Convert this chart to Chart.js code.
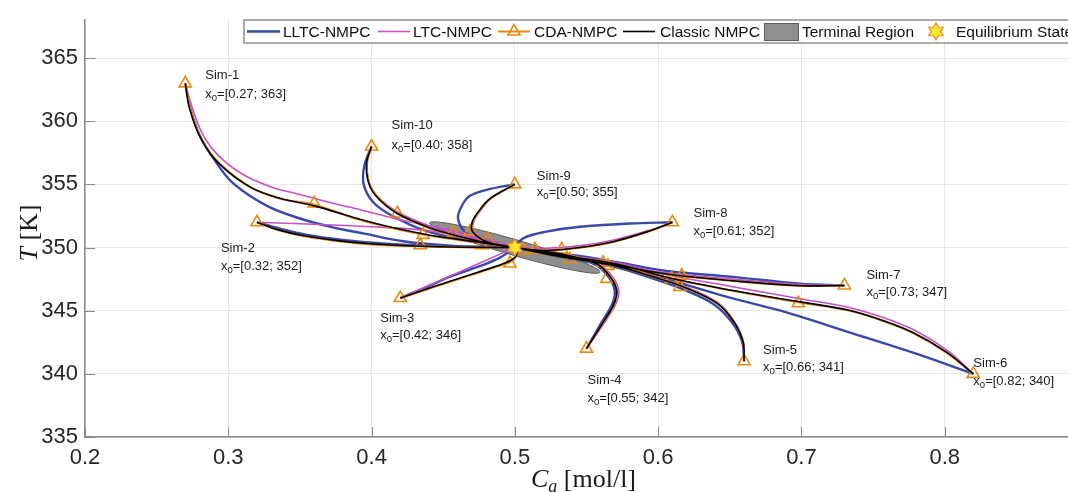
<!DOCTYPE html>
<html><head><meta charset="utf-8">
<script src="https://cdn.jsdelivr.net/npm/chart.js@4.4.1/dist/chart.umd.min.js"></script>
<style>
html,body{margin:0;padding:0;overflow:hidden;background:#fff;width:1068px;height:492px}
#wrap{position:absolute;left:0;top:0;width:1100px;height:492px}
</style>
</head><body><div id="wrap"><canvas id="c"></canvas></div>
<script>
// ---------------- DATA ----------------
const simNames = ['Sim-1','Sim-2','Sim-3','Sim-4','Sim-5','Sim-6','Sim-7','Sim-8','Sim-9','Sim-10'];
const simStarts = [[0.27,363],[0.32,352],[0.42,346],[0.55,342],[0.66,341],[0.82,340],[0.73,347],[0.61,352],[0.50,355],[0.40,358]];
const equilibrium = [0.5, 350];
const terminalCenter = [0.5, 350];
const terminalTip = [0.5595, 348.05];
const terminalHalfHeightK = 0.65;

const xTickValues = [0.2,0.3,0.4,0.5,0.6,0.7,0.8];
const xTickLabels = ['0.2','0.3','0.4','0.5','0.6','0.7','0.8'];
const yTickValues = [335,340,345,350,355,360,365];
const yTickLabels = ['335','340','345','350','355','360','365'];

// trajectories [Ca, T], one list per simulation (Sim-1 ... Sim-10)
const lltcPaths = [
 [[.27,363],[.273,361.2],[.28,358.9],[.29,357.0],[.3033,355.1],[.327,353.3],[.35,352.3],[.373,351.6],[.395,351.1],[.422,350.5],[.455,350.15],[.5,350]],
 [[.32,352],[.336,351.5],[.355,351.0],[.38,350.6],[.41,350.3],[.45,350.1],[.5,350]],
 [[.42,346],[.44,346.95],[.4547,347.7],[.475,348.5],[.4896,349.2],[.5,350]],
 [[.55,342],[.5596,343.9],[.5678,345.5],[.5697,346.6],[.5652,347.7],[.556,348.65],[.533,349.4],[.51,349.8],[.5,350]],
 [[.66,341],[.6587,342.5],[.652,344.0],[.639,345.5],[.615,346.8],[.592,347.7],[.57,348.45],[.53,349.3],[.5,350]],
 [[.82,340],[.78,341.6],[.734,343.27],[.69,344.85],[.652,345.97],[.61,347.38],[.5594,349.07],[.525,349.6],[.5,350]],
 [[.73,347],[.699,347.14],[.652,347.68],[.606,348.14],[.571,348.84],[.531,349.46],[.5,350]],
 [[.61,352],[.58,351.9],[.5454,351.65],[.522,351.26],[.506,350.75],[.5,350]],
 [[.5,355],[.4826,354.64],[.4687,354.1],[.4631,353.33],[.4603,352.32],[.4652,351.24],[.4777,350.39],[.5,350]],
 [[.40,358],[.395,356.5],[.3945,355.0],[.401,353.6],[.413,352.6],[.436,351.4],[.464,350.6],[.5,350]]
];
const ltcPaths = [
 [[.27,363],[.2745,361.2],[.282,359.0],[.293,357.3],[.31,355.8],[.33,354.8],[.35,354.2],[.373,353.5],[.392,353.0],[.42,352.2],[.45,351.5],[.476,350.8],[.5,350]],
 [[.32,352],[.36,351.85],[.40,351.65],[.434,351.4],[.46,351.0],[.482,350.55],[.5,350]],
 [[.42,346],[.45,347.5],[.48,349.0],[.5,350]],
 [[.55,342],[.5616,343.9],[.5703,345.5],[.5725,346.6],[.568,347.7],[.5585,348.7],[.534,349.5],[.511,349.87],[.5,350]],
 [[.66,341],[.6596,342.5],[.6535,344.1],[.6415,345.65],[.618,346.95],[.595,347.8],[.572,348.55],[.531,349.35],[.5,350]],
 [[.82,340],[.8025,341.8],[.779,343.45],[.756,344.5],[.7318,345.3],[.699,345.95],[.652,346.9],[.606,347.85],[.571,348.8],[.531,349.45],[.5,350]],
 [[.73,347],[.699,347.08],[.652,347.5],[.606,348.0],[.571,348.7],[.531,349.4],[.5,350]],
 [[.61,352],[.592,351.3],[.569,350.6],[.546,350.15],[.522,349.95],[.5,350]],
 [[.5,355],[.4835,353.9],[.4752,352.8],[.471,351.95],[.4717,351.25],[.4812,350.48],[.5,350]],
 [[.40,358],[.397,356.7],[.3985,355.1],[.405,353.95],[.419,352.75],[.443,351.6],[.466,350.85],[.489,350.25],[.5,350]]
];
const cdaPaths = [
 [[.27,363],[.2735,361],[.2815,358.55],[.294,356.65],[.316,354.75],[.337,353.85],[.36,353.4],[.39,352.25],[.414,351.55],[.44,350.95],[.47,350.45],[.5,350]],
 [[.32,352],[.336,351.35],[.353,350.9],[.377,350.5],[.4,350.25],[.434,350.1],[.47,350.0],[.5,350]],
 [[.42,346],[.443,346.85],[.466,347.7],[.485,348.4],[.4966,348.85],[.5015,349.45],[.5,350]],
 [[.55,342],[.561,343.9],[.5695,345.5],[.5715,346.6],[.5668,347.7],[.5576,348.7],[.5337,349.48],[.5105,349.86],[.5,350]],
 [[.66,341],[.6594,342.5],[.653,344.1],[.6412,345.6],[.6175,346.9],[.5945,347.75],[.5712,348.52],[.5312,349.3],[.5,350]],
 [[.82,340],[.8013,341.68],[.7776,343.25],[.7546,344.28],[.7316,345.05],[.699,345.65],[.652,346.58],[.606,347.63],[.571,348.68],[.531,349.4],[.5,350]],
 [[.73,347],[.699,346.97],[.652,347.36],[.606,347.88],[.571,348.58],[.531,349.3],[.5,350]],
 [[.61,352],[.592,351.23],[.5685,350.44],[.5454,349.98],[.5223,349.78],[.51,349.86],[.5,350]],
 [[.5,355],[.4828,353.86],[.4744,352.78],[.4702,351.92],[.4709,351.22],[.4806,350.45],[.5,350]],
 [[.40,358],[.3968,356.7],[.3983,355.1],[.405,353.9],[.418,352.7],[.441,351.5],[.464,350.75],[.488,350.2],[.5,350]]
];
const classicPaths = [
 [[.27,363],[.273,361],[.281,358.6],[.293,356.7],[.315,354.8],[.336,353.9],[.36,353.3],[.39,352.3],[.414,351.6],[.44,351.0],[.47,350.5],[.5,350]],
 [[.32,352],[.335,351.4],[.352,350.95],[.376,350.55],[.399,350.3],[.434,350.1],[.47,350.02],[.5,350]],
 [[.42,346],[.443,346.9],[.466,347.75],[.485,348.45],[.4966,348.95],[.5015,349.5],[.5,350]],
 [[.55,342],[.5606,343.9],[.569,345.5],[.571,346.6],[.5664,347.7],[.5573,348.7],[.5335,349.46],[.5105,349.85],[.5,350]],
 [[.66,341],[.6593,342.5],[.6529,344.1],[.641,345.6],[.6173,346.9],[.5943,347.76],[.571,348.53],[.531,349.3],[.5,350]],
 [[.82,340],[.8015,341.7],[.7778,343.27],[.7548,344.3],[.7318,345.07],[.699,345.7],[.652,346.6],[.606,347.65],[.571,348.7],[.531,349.4],[.5,350]],
 [[.73,347],[.699,346.98],[.652,347.37],[.606,347.9],[.571,348.6],[.531,349.3],[.5,350]],
 [[.61,352],[.592,351.24],[.5685,350.46],[.5454,350.0],[.5223,349.77],[.51,349.85],[.5,350]],
 [[.5,355],[.4826,353.87],[.4742,352.79],[.47,351.93],[.4707,351.24],[.4805,350.46],[.5,350]],
 [[.40,358],[.3965,356.7],[.398,355.1],[.4045,353.9],[.418,352.7],[.441,351.55],[.464,350.8],[.488,350.2],[.5,350]]
];
// CDA-NMPC triangle markers (start points and sampled points)
const cdaMarkers = [
 [.27,363],[.32,352],[.42,346],[.55,342],[.66,341],[.82,340],[.73,347],[.61,352],[.50,355],[.40,358],
 [.36,353.5],[.436,351.0],[.434,350.18],[.418,352.7],[.457,351.16],[.4687,351.26],[.4768,350.18],[.4813,350.62],
 [.4966,348.74],[.5056,349.77],[.514,349.85],[.5327,349.85],[.5384,349.07],[.5615,348.8],[.565,348.55],
 [.5641,347.52],[.6164,347.78],[.6094,347.52],[.6152,346.88],[.6978,345.59]
];

// ---------------- STYLE / LAYOUT ----------------
const COL = {lltc:'#3a49a8', ltc:'#c64fc6', cda:'#e8890f', classic:'#000000'};
const labelOffsets = [[20,-8,11],[-36,26,44],[-20,20,37],[1,32,50],[19,-11,6],[0,-10,8],[22,-10,7],[21,-9,9],[22,-8,8],[20,-21,-1]];

function toPts(paths){
  const out=[];
  paths.forEach((p,i)=>{ if(i) out.push({x:null,y:null}); p.forEach(q=>out.push({x:q[0],y:q[1]})); });
  return out;
}

function hexagram(ctx,x,y,R){
  const r=R/Math.sqrt(3);
  ctx.beginPath();
  for(let k=0;k<12;k++){
    const ang=-Math.PI/2+k*Math.PI/6;
    const rr=(k%2===0)?R:r;
    const px=x+rr*Math.cos(ang), py=y+rr*Math.sin(ang);
    if(k===0)ctx.moveTo(px,py);else ctx.lineTo(px,py);
  }
  ctx.closePath();
  ctx.fillStyle='#f7e42c'; ctx.fill();
  ctx.strokeStyle='#ef8a2a'; ctx.lineWidth=1.2; ctx.stroke();
}
function triangle(ctx,x,y,r,color){
  ctx.beginPath();
  ctx.moveTo(x,y-r);
  ctx.lineTo(x+r*0.866,y+r*0.5);
  ctx.lineTo(x-r*0.866,y+r*0.5);
  ctx.closePath();
  ctx.strokeStyle=color; ctx.lineWidth=1.6; ctx.stroke();
}

const SANS='"Liberation Sans", Arial, Helvetica, sans-serif';
const SERIF='"Liberation Serif", "Times New Roman", serif';

const decor = {
  id:'decor',
  beforeDatasetsDraw(chart){
    const ctx=chart.ctx, xs=chart.scales.x, ys=chart.scales.y, ca=chart.chartArea;
    ctx.save();
    // inward tick marks
    ctx.strokeStyle='#8a8a8a'; ctx.lineWidth=1;
    xTickValues.forEach(v=>{const X=Math.round(xs.getPixelForValue(v))+0.5; ctx.beginPath(); ctx.moveTo(X,ca.bottom); ctx.lineTo(X,ca.bottom-10); ctx.stroke();});
    yTickValues.forEach(v=>{const Y=Math.round(ys.getPixelForValue(v))+0.5; ctx.beginPath(); ctx.moveTo(ca.left,Y); ctx.lineTo(ca.left+10,Y); ctx.stroke();});
    // terminal region ellipse
    const cx=xs.getPixelForValue(terminalCenter[0]), cy=ys.getPixelForValue(terminalCenter[1]);
    const tx=xs.getPixelForValue(terminalTip[0]), ty=ys.getPixelForValue(terminalTip[1]);
    const a=Math.hypot(tx-cx,ty-cy), th=Math.atan2(ty-cy,tx-cx);
    const h=Math.abs(ys.getPixelForValue(terminalCenter[1]+terminalHalfHeightK)-cy);
    const b=Math.cos(th)/Math.sqrt(1/(h*h)-Math.pow(Math.sin(th),2)/(a*a));
    ctx.beginPath(); ctx.ellipse(cx,cy,a,b,th,0,Math.PI*2);
    ctx.fillStyle='#8f8f8f'; ctx.fill();
    ctx.strokeStyle='#5e5e5e'; ctx.lineWidth=1; ctx.stroke();
    ctx.restore();
  },
  afterDatasetsDraw(chart){
    const ctx=chart.ctx, xs=chart.scales.x, ys=chart.scales.y;
    ctx.save();
    hexagram(ctx, xs.getPixelForValue(equilibrium[0]), ys.getPixelForValue(equilibrium[1]), 8.5);
    // simulation labels
    ctx.fillStyle='#1a1a1a'; ctx.textBaseline='middle'; ctx.textAlign='left';
    simStarts.forEach((s,i)=>{
      const X=xs.getPixelForValue(s[0]), Y=ys.getPixelForValue(s[1]);
      const o=labelOffsets[i];
      ctx.font='13px '+SANS;
      ctx.fillText(simNames[i], X+o[0], Y+o[1]);
      let x=X+o[0], y=Y+o[2];
      ctx.fillText('x', x, y); x+=ctx.measureText('x').width;
      ctx.font='9.5px '+SANS; ctx.fillText('0', x, y+4); x+=ctx.measureText('0').width;
      ctx.font='13px '+SANS; ctx.fillText('=['+s[0].toFixed(2)+'; '+s[1].toFixed(0)+']', x, y);
    });
    ctx.restore();
  },
  afterDraw(chart){
    const ctx=chart.ctx, ca=chart.chartArea;
    ctx.save();
    // axis titles
    ctx.fillStyle='#1a1a1a'; ctx.textBaseline='alphabetic'; ctx.textAlign='left';
    // x title: C_a [mol/l]
    ctx.font='italic 26px '+SERIF; const wC=ctx.measureText('C').width;
    ctx.font='italic 18px '+SERIF; const wa=ctx.measureText('a').width;
    ctx.font='26px '+SERIF; const wr=ctx.measureText(' [mol/l]').width;
    let x0=(ca.left+ca.right)/2-3-(wC+wa+wr)/2, yb=487;
    ctx.font='italic 26px '+SERIF; ctx.fillText('C',x0,yb); x0+=wC;
    ctx.font='italic 18px '+SERIF; ctx.fillText('a',x0,yb+5); x0+=wa;
    ctx.font='26px '+SERIF; ctx.fillText(' [mol/l]',x0,yb);
    // y title: T [K]
    ctx.save(); ctx.translate(37,233); ctx.rotate(-Math.PI/2);
    ctx.font='italic 26px '+SERIF; const wT=ctx.measureText('T').width;
    ctx.font='26px '+SERIF; const wK=ctx.measureText(' [K]').width;
    let s0=-(wT+wK)/2;
    ctx.font='italic 26px '+SERIF; ctx.fillText('T',s0,0);
    ctx.font='26px '+SERIF; ctx.fillText(' [K]',s0+wT,0);
    ctx.restore();
    // legend
    const top=20, bot=43, ym=31.5;
    ctx.fillStyle='#ffffff'; ctx.fillRect(244,top,860,bot-top);
    ctx.strokeStyle='#a3a3a3'; ctx.lineWidth=1.8; ctx.strokeRect(244,top,860,bot-top);
    const line=(x1,x2,c,w)=>{ctx.beginPath();ctx.moveTo(x1,ym);ctx.lineTo(x2,ym);ctx.strokeStyle=c;ctx.lineWidth=w;ctx.stroke();};
    ctx.font='15.5px '+SANS; ctx.fillStyle='#111'; ctx.textBaseline='middle';
    line(247,280,COL.lltc,2.4); ctx.fillText('LLTC-NMPC',283,ym+1);
    line(378,410,COL.ltc,1.6); ctx.fillText('LTC-NMPC',413,ym+1);
    line(498,530,COL.cda,2); triangle(ctx,514,ym,7,COL.cda); ctx.fillStyle='#111'; ctx.fillText('CDA-NMPC',534,ym+1);
    line(623,655,COL.classic,1.6); ctx.fillText('Classic NMPC',660,ym+1);
    ctx.fillStyle='#8f8f8f'; ctx.fillRect(764,23,34,17); ctx.strokeStyle='#5e5e5e'; ctx.lineWidth=1; ctx.strokeRect(764.5,23.5,34,17);
    ctx.fillStyle='#111'; ctx.fillText('Terminal Region',802,ym+1);
    hexagram(ctx,936,ym,8.5);
    ctx.fillStyle='#111'; ctx.fillText('Equilibrium State',956,ym+1);
    ctx.restore();
  }
};

const lineDs=(label,paths,color,w,order)=>({label,data:toPts(paths),showLine:true,borderColor:color,backgroundColor:color,borderWidth:w,pointRadius:0,tension:0.35,spanGaps:false,order});

new Chart(document.getElementById('c'),{
  type:'scatter',
  data:{datasets:[
    lineDs('LLTC-NMPC',lltcPaths,COL.lltc,2.4,4),
    lineDs('LTC-NMPC',ltcPaths,COL.ltc,1.6,3),
    lineDs('CDA-NMPC',cdaPaths,COL.cda,2.0,2),
    {label:'CDA markers',data:cdaMarkers.map(p=>({x:p[0],y:p[1]})),showLine:false,pointStyle:'triangle',pointRadius:7,pointBorderColor:COL.cda,pointBackgroundColor:'rgba(0,0,0,0)',pointBorderWidth:1.6,order:1},
    lineDs('Classic NMPC',classicPaths,COL.classic,1.6,0)
  ]},
  options:{
    responsive:true, maintainAspectRatio:false, animation:false, events:[],
    layout:{padding:{top:11,right:12,left:0,bottom:0}},
    plugins:{legend:{display:false},tooltip:{enabled:false}},
    scales:{
      x:{type:'linear',min:0.2,max:0.9,position:'bottom',
        grid:{color:'#e6e6e6',drawTicks:false,lineWidth:1},
        border:{color:'#8a8a8a',width:1.5},
        ticks:{font:{family:SANS,size:22},color:'#262626',padding:8,maxRotation:0,callback:(v,i)=>xTickLabels[i]},
        afterBuildTicks:s=>{s.ticks=xTickValues.map(v=>({value:v}));},
        afterFit:s=>{s.height=55;}},
      y:{type:'linear',min:335,max:368,position:'left',
        grid:{color:'#e6e6e6',drawTicks:false,lineWidth:1},
        border:{color:'#8a8a8a',width:1.5},
        ticks:{font:{family:SANS,size:22},color:'#262626',padding:7,callback:(v,i)=>yTickLabels[i]},
        afterBuildTicks:s=>{s.ticks=yTickValues.map(v=>({value:v}));},
        afterFit:s=>{s.width=85;}}
    }
  },
  plugins:[decor]
});
</script></body></html>
